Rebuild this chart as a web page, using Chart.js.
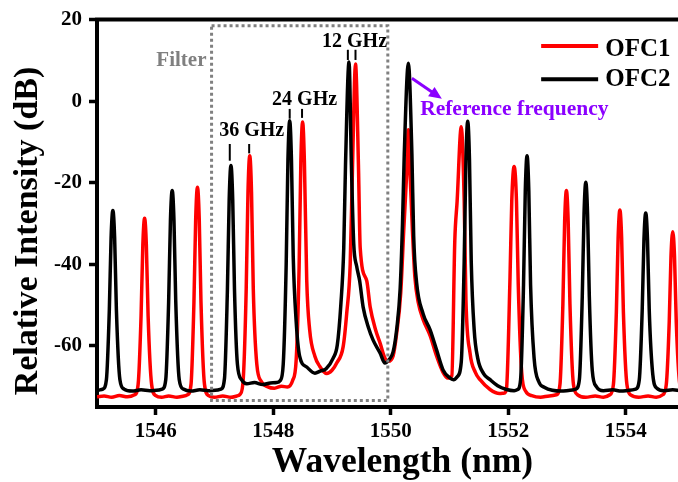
<!DOCTYPE html>
<html>
<head>
<meta charset="utf-8">
<title>OFC spectra</title>
<script src="https://cdn.jsdelivr.net/npm/chart.js@4.4.0/dist/chart.umd.min.js"></script>
<style>
  html, body { margin: 0; padding: 0; background: #fff; overflow: hidden; }
  #wrap { width: 678px; height: 482px; overflow: hidden; }
</style>
</head>
<body>
<div id="wrap"><canvas id="spectrum" width="712" height="482"></canvas></div>
<script>
// OFC1 spectrum (wavelength nm / power dB)
const ofc1Wl = [
  1545.00, 1545.12, 1545.25, 1545.38, 1545.52, 1545.64, 1545.70, 1545.75, 1545.78, 1545.81,
  1545.84, 1545.87, 1545.93, 1546.00, 1546.10, 1546.22, 1546.36, 1546.48, 1546.54, 1546.60,
  1546.65, 1546.68, 1546.71, 1546.74, 1546.77, 1546.83, 1546.90, 1547.00, 1547.14, 1547.28,
  1547.38, 1547.44, 1547.49, 1547.54, 1547.57, 1547.60, 1547.63, 1547.66, 1547.72, 1547.80,
  1547.90, 1548.02, 1548.14, 1548.24, 1548.33, 1548.39, 1548.44, 1548.47, 1548.50, 1548.53,
  1548.57, 1548.62, 1548.71, 1548.79, 1548.91, 1549.00, 1549.08, 1549.19, 1549.25, 1549.31,
  1549.35, 1549.40, 1549.45, 1549.48, 1549.59, 1549.65, 1549.74, 1549.82, 1549.90, 1549.96,
  1550.04, 1550.10, 1550.17, 1550.22, 1550.27, 1550.30, 1550.33, 1550.37, 1550.41, 1550.47,
  1550.55, 1550.67, 1550.78, 1550.89, 1550.97, 1551.04, 1551.09, 1551.13, 1551.20, 1551.25,
  1551.28, 1551.35, 1551.44, 1551.52, 1551.69, 1551.85, 1551.93, 1551.97, 1552.03, 1552.06,
  1552.10, 1552.14, 1552.17, 1552.23, 1552.30, 1552.40, 1552.55, 1552.70, 1552.82, 1552.88,
  1552.93, 1552.96, 1552.99, 1553.02, 1553.05, 1553.11, 1553.18, 1553.32, 1553.48, 1553.62,
  1553.73, 1553.79, 1553.84, 1553.87, 1553.90, 1553.93, 1553.96, 1554.02, 1554.09, 1554.22,
  1554.38, 1554.52, 1554.63, 1554.69, 1554.74, 1554.77, 1554.80, 1554.83, 1554.86, 1554.92,
  1554.99, 1555.15, 1555.40
];
const ofc1Db = [
  -72.5, -72.3, -72.6, -72.2, -72.5, -72.0, -69.5, -52.7, -35.3, -28.7,
  -35.3, -52.7, -69.5, -72.2, -72.6, -72.3, -72.6, -72.3, -72.0, -69.5,
  -49.3, -28.8, -21.1, -28.8, -49.3, -69.5, -72.2, -72.6, -72.3, -72.6,
  -72.3, -71.8, -68.0, -45.9, -22.3, -13.4, -22.3, -46.0, -64.5, -68.8,
  -70.0, -70.4, -69.9, -70.1, -68.5, -63.5, -40.8, -14.8, -5.1, -14.8,
  -44.0, -56.1, -62.6, -65.0, -66.8, -66.0, -64.2, -60.2, -52.1, -39.9,
  -15.6, 9.1, -15.6, -36.0, -44.0, -50.5, -56.0, -59.4, -63.0, -63.8,
  -62.5, -57.0, -47.0, -32.0, -18.0, -7.0, -18.0, -32.0, -43.0, -49.5,
  -53.5, -57.5, -62.5, -66.5, -67.9, -67.3, -34.3, -24.5, -6.3, -24.5,
  -48.8, -61.8, -66.5, -68.3, -70.7, -71.7, -71.6, -70.5, -43.2, -24.5,
  -16.0, -24.5, -44.8, -66.7, -71.2, -72.2, -72.6, -72.3, -72.0, -69.5,
  -49.7, -29.5, -21.9, -29.5, -49.7, -69.5, -72.0, -72.6, -72.3, -72.6,
  -72.0, -69.5, -51.8, -33.6, -26.7, -33.6, -51.8, -69.5, -72.1, -72.6,
  -72.3, -72.6, -72.0, -69.5, -54.2, -38.1, -32.0, -38.1, -54.2, -69.5,
  -72.1, -72.4, -72.3
];

// OFC2 spectrum (wavelength nm / power dB)
const ofc2Wl = [
  1545.00, 1545.05, 1545.10, 1545.16, 1545.21, 1545.24, 1545.27, 1545.30, 1545.33, 1545.39,
  1545.46, 1545.60, 1545.75, 1545.90, 1546.01, 1546.11, 1546.17, 1546.22, 1546.25, 1546.28,
  1546.31, 1546.34, 1546.40, 1546.47, 1546.60, 1546.75, 1546.90, 1547.01, 1547.11, 1547.17,
  1547.22, 1547.25, 1547.28, 1547.31, 1547.34, 1547.39, 1547.46, 1547.55, 1547.68, 1547.82,
  1547.95, 1548.06, 1548.12, 1548.17, 1548.22, 1548.25, 1548.28, 1548.31, 1548.34, 1548.39,
  1548.45, 1548.57, 1548.71, 1548.80, 1548.90, 1549.02, 1549.09, 1549.15, 1549.20, 1549.23,
  1549.29, 1549.33, 1549.37, 1549.42, 1549.47, 1549.53, 1549.62, 1549.70, 1549.82, 1549.90,
  1549.97, 1550.04, 1550.10, 1550.16, 1550.20, 1550.23, 1550.30, 1550.36, 1550.39, 1550.44,
  1550.55, 1550.67, 1550.78, 1550.89, 1551.00, 1551.07, 1551.13, 1551.20, 1551.25, 1551.28,
  1551.31, 1551.34, 1551.37, 1551.42, 1551.48, 1551.58, 1551.69, 1551.82, 1551.97, 1552.10,
  1552.16, 1552.21, 1552.26, 1552.29, 1552.32, 1552.35, 1552.38, 1552.44, 1552.52, 1552.62,
  1552.75, 1552.90, 1553.05, 1553.15, 1553.21, 1553.26, 1553.29, 1553.32, 1553.35, 1553.38,
  1553.43, 1553.50, 1553.62, 1553.78, 1553.92, 1554.06, 1554.17, 1554.23, 1554.28, 1554.31,
  1554.34, 1554.37, 1554.40, 1554.46, 1554.53, 1554.65, 1554.80, 1554.95, 1555.10, 1555.40
];
const ofc2Db = [
  -71.0, -70.8, -70.6, -68.3, -51.1, -33.4, -26.8, -33.4, -51.1, -68.3,
  -70.6, -71.1, -70.8, -71.0, -70.9, -70.6, -68.3, -48.9, -29.2, -21.9,
  -29.2, -48.9, -68.3, -70.6, -71.1, -70.8, -71.0, -70.9, -70.6, -68.0,
  -46.1, -24.1, -15.8, -24.1, -46.1, -64.5, -68.3, -69.3, -69.0, -69.5,
  -69.1, -69.0, -68.5, -64.5, -40.2, -14.4, -4.8, -14.4, -38.0, -54.0,
  -62.6, -65.2, -66.7, -66.2, -65.6, -63.0, -59.8, -50.0, -36.0, -15.6,
  9.6, -15.6, -35.0, -40.5, -44.0, -50.5, -55.5, -58.6, -61.8, -64.2,
  -63.4, -61.5, -56.1, -46.0, -30.0, -13.0, 9.3, -13.0, -33.0, -44.5,
  -52.1, -56.1, -61.0, -65.9, -67.8, -68.3, -67.6, -64.0, -39.3, -14.3,
  -4.9, -14.3, -39.3, -56.0, -63.0, -66.8, -68.3, -69.8, -70.7, -71.0,
  -70.7, -68.3, -45.1, -22.0, -13.4, -22.0, -45.1, -63.0, -68.8, -70.2,
  -70.9, -71.1, -70.9, -70.6, -68.4, -47.9, -27.6, -19.9, -27.6, -47.9,
  -66.0, -70.0, -71.0, -70.8, -71.1, -70.9, -70.6, -68.4, -51.3, -33.9,
  -27.4, -33.9, -51.3, -67.0, -70.4, -71.0, -70.8, -71.0, -70.9, -71.0
];

const xTicks = [1546, 1548, 1550, 1552, 1554];
const yTicks = [-60, -40, -20, 0, 20];

const FONT = "'Liberation Serif', 'Times New Roman', serif";
const PURPLE = '#8b00ff';
const GRAY = '#808080';

// beat-note labels and the short marks above each peak pair (nm, dB)
const beatNotes = [
  { text: '36 GHz', x: 1547.08, y: -8.5, marks: [[1547.26, -10.5, -14.6], [1547.59, -10.5, -12.8]] },
  { text: '24 GHz', x: 1547.98, y: -0.9, marks: [[1548.28, -1.9, -4.3], [1548.49, -1.9, -4.1]] },
  { text: '12 GHz', x: 1548.83, y: 13.3, marks: [[1549.27, 12.6, 10.1], [1549.40, 12.6, 10.1]] }
];

// tunable filter passband
const filterBox = { x0: 1546.95, x1: 1549.95, y0: -73.4, y1: 18.5 };

function toPoints(wl, db) {
  return wl.map((x, i) => ({ x: x, y: db[i] }));
}

function drawArrow(ctx, x1, y1, x2, y2, color) {
  const ang = Math.atan2(y2 - y1, x2 - x1);
  const head = 14;
  ctx.strokeStyle = color;
  ctx.fillStyle = color;
  ctx.lineWidth = 3;
  ctx.beginPath();
  ctx.moveTo(x1, y1);
  ctx.lineTo(x2 - head * 0.7 * Math.cos(ang), y2 - head * 0.7 * Math.sin(ang));
  ctx.stroke();
  ctx.beginPath();
  ctx.moveTo(x2, y2);
  ctx.lineTo(x2 - head * Math.cos(ang - 0.42), y2 - head * Math.sin(ang - 0.42));
  ctx.lineTo(x2 - head * Math.cos(ang + 0.42), y2 - head * Math.sin(ang + 0.42));
  ctx.closePath();
  ctx.fill();
}

const overlayPlugin = {
  id: 'overlay',
  afterDatasetsDraw(chart) {
    const { ctx, chartArea } = chart;
    const xs = chart.scales.x, ys = chart.scales.y;
    const px = v => xs.getPixelForValue(v);
    const py = v => ys.getPixelForValue(v);
    ctx.save();

    // frame: top and right edges
    ctx.strokeStyle = '#000';
    ctx.lineWidth = 4;
    ctx.beginPath();
    ctx.moveTo(chartArea.left - 2, chartArea.top);
    ctx.lineTo(chartArea.right, chartArea.top);
    ctx.lineTo(chartArea.right, chartArea.bottom);
    ctx.stroke();

    // filter window
    ctx.strokeStyle = GRAY;
    ctx.lineWidth = 3;
    ctx.setLineDash([3, 3]);
    ctx.strokeRect(px(filterBox.x0), py(filterBox.y1),
      px(filterBox.x1) - px(filterBox.x0), py(filterBox.y0) - py(filterBox.y1));
    ctx.setLineDash([]);

    ctx.textBaseline = 'alphabetic';
    ctx.textAlign = 'left';
    ctx.fillStyle = GRAY;
    ctx.font = 'bold 21px ' + FONT;
    ctx.fillText('Filter', px(1546.01), py(8.5));

    // beat notes
    ctx.fillStyle = '#000';
    ctx.strokeStyle = '#000';
    ctx.lineWidth = 2;
    ctx.font = 'bold 20px ' + FONT;
    beatNotes.forEach(n => {
      ctx.fillText(n.text, px(n.x), py(n.y));
      n.marks.forEach(m => {
        ctx.beginPath();
        ctx.moveTo(px(m[0]), py(m[1]));
        ctx.lineTo(px(m[0]), py(m[2]));
        ctx.stroke();
      });
    });

    // reference line
    drawArrow(ctx, px(1550.36), py(5.6), px(1550.87), py(0.56), PURPLE);
    ctx.fillStyle = PURPLE;
    ctx.font = 'bold 21.5px ' + FONT;
    ctx.fillText('Reference frequency', px(1550.50), py(-3.4));

    // legend
    const items = [
      { label: 'OFC1', color: '#ff0000', y: 13.5, ty: 11.1 },
      { label: 'OFC2', color: '#000000', y: 5.4, ty: 3.8 }
    ];
    ctx.font = 'bold 25px ' + FONT;
    items.forEach(it => {
      ctx.strokeStyle = it.color;
      ctx.lineWidth = 4;
      ctx.beginPath();
      ctx.moveTo(px(1552.56), py(it.y));
      ctx.lineTo(px(1553.53), py(it.y));
      ctx.stroke();
      ctx.fillStyle = '#000';
      ctx.fillText(it.label, px(1553.65), py(it.ty));
    });

    // y axis title
    ctx.translate(28.5, 231);
    ctx.rotate(-Math.PI / 2);
    ctx.textAlign = 'center';
    ctx.textBaseline = 'middle';
    ctx.fillStyle = '#000';
    ctx.font = 'bold 34px ' + FONT;
    ctx.fillText('Relative Intensity (dB)', 0, 0);

    ctx.restore();
  }
};

const tickFont = { family: FONT, size: 21, weight: 'bold' };

new Chart(document.getElementById('spectrum').getContext('2d'), {
  type: 'line',
  data: {
    datasets: [
      {
        label: 'OFC1',
        data: toPoints(ofc1Wl, ofc1Db),
        borderColor: '#ff0000',
        borderWidth: 3.5,
        pointRadius: 0,
        cubicInterpolationMode: 'monotone',
        order: 2
      },
      {
        label: 'OFC2',
        data: toPoints(ofc2Wl, ofc2Db),
        borderColor: '#000000',
        borderWidth: 3.5,
        pointRadius: 0,
        cubicInterpolationMode: 'monotone',
        order: 1
      }
    ]
  },
  options: {
    responsive: false,
    animation: false,
    devicePixelRatio: 1,
    layout: { padding: { top: 17, right: 4, left: 0, bottom: 0 } },
    plugins: {
      legend: { display: false },
      tooltip: { enabled: false }
    },
    scales: {
      x: {
        type: 'linear',
        min: 1545,
        max: 1555.4,
        afterBuildTicks: s => { s.ticks = xTicks.map(v => ({ value: v })); },
        afterFit: s => { s.height = 75; },
        grid: { drawOnChartArea: false, tickLength: 8, tickWidth: 3.5, tickColor: '#000' },
        border: { color: '#000', width: 4 },
        ticks: { color: '#000', font: tickFont, padding: 4, maxRotation: 0, callback: v => String(v) },
        title: {
          display: true,
          text: 'Wavelength (nm)',
          color: '#000',
          font: { family: FONT, size: 35.5, weight: 'bold', lineHeight: 1.1 },
          padding: { top: 0, bottom: 0 }
        }
      },
      y: {
        min: -75,
        max: 20,
        afterBuildTicks: s => { s.ticks = yTicks.map(v => ({ value: v })); },
        afterFit: s => { s.width = 97; },
        grid: { drawOnChartArea: false, tickLength: 8, tickWidth: 3.5, tickColor: '#000' },
        border: { color: '#000', width: 4 },
        ticks: { color: '#000', font: tickFont, padding: 7, callback: v => String(v) },
        title: { display: false }
      }
    }
  },
  plugins: [overlayPlugin]
});
</script>
</body>
</html>
